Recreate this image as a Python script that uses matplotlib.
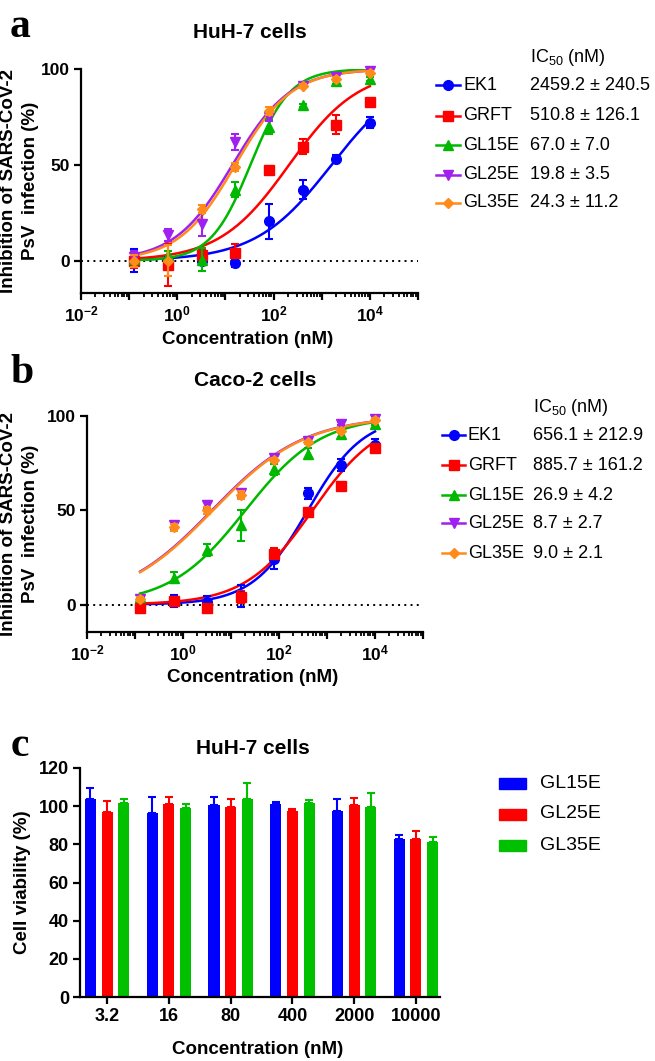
import numpy as np
import matplotlib
matplotlib.use('Agg')
import matplotlib.pyplot as plt
from matplotlib.lines import Line2D
from matplotlib.patches import Rectangle
from matplotlib.ticker import LogLocator, NullFormatter, FixedLocator, FixedFormatter

plt.rcParams['font.family'] = ['Liberation Sans', 'DejaVu Sans']
plt.rcParams['mathtext.fontset'] = 'custom'
plt.rcParams['mathtext.rm'] = 'Liberation Sans'
plt.rcParams['mathtext.bf'] = 'Liberation Sans:bold'

# ---------------- data ----------------
conc = [0.128, 0.64, 3.2, 16, 80, 400, 2000, 10000]
names = ['EK1', 'GRFT', 'GL15E', 'GL25E', 'GL35E']
colors = ['#0000FF', '#FF0000', '#00B800', '#A020F0', '#FF8C1A']
markers = ['o', 's', '^', 'v', 'D']
msizes = [7, 6.5, 7, 7, 5]

# Panel a (HuH-7) mean inhibition (%) and SD
a_ek1 = [0, 0, -0.3, -1.2, 20.5, 37, 53, 72]
a_ek1_sd = [6, 2, 2, 2, 9, 5, 2, 3]
a_grft = [0, -2.4, 3, 4, 47.5, 59.5, 71, 83]
a_grft_sd = [4, 11, 3, 5, 2, 4, 5, 1]
a_gl15e = [1, 3, 0.5, 37, 70, 81, 94, 95]
a_gl15e_sd = [2, 2, 6, 4, 4, 1, 2, 1]
a_gl25e = [2, 13.5, 19, 62, 75, 91, 96, 99]
a_gl25e_sd = [3, 3, 6, 4, 2, 1, 1, 1]
a_gl35e = [0, 0, 27, 49, 78, 91, 95, 98]
a_gl35e_sd = [3, 8, 2, 2, 2, 1, 1, 1]
a_ic50_text = ['2459.2 \u00b1 240.5', '510.8 \u00b1 126.1', '67.0 \u00b1 7.0',
               '19.8 \u00b1 3.5', '24.3 \u00b1 11.2']
# fitted curve parameters (EC50 in nM, Hill slope)
a_fit_ec50 = [1600, 210, 33, 14, 16]
a_fit_hill = [0.55, 0.6, 1.05, 0.72, 0.74]

# Panel b (Caco-2)
b_ek1 = [-1, 2, 1.4, 4.6, 24, 59, 74, 84.6]
b_ek1_sd = [3, 3, 3, 6, 5, 3, 3, 3]
b_grft = [-2, 2, -1.8, 4, 27, 49, 63, 83]
b_grft_sd = [2, 2, 2, 3, 3, 1, 1, 1]
b_gl15e = [4, 14.3, 29, 42, 71.7, 80, 90.4, 96]
b_gl15e_sd = [1, 3, 3, 8, 3, 3, 2, 1]
b_gl25e = [3, 42, 52.7, 59, 77.5, 87, 96, 98.6]
b_gl25e_sd = [1, 2, 2, 2, 1, 1, 1, 1]
b_gl35e = [3, 41, 50, 58, 76.6, 86, 92, 98]
b_gl35e_sd = [1, 2, 2, 2, 1, 1, 1, 1]
b_ic50_text = ['656.1 \u00b1 212.9', '885.7 \u00b1 161.2', '26.9 \u00b1 4.2',
               '8.7 \u00b1 2.7', '9.0 \u00b1 2.1']
b_fit_ec50 = [400, 500, 20, 4, 4.2]
b_fit_hill = [0.75, 0.62, 0.55, 0.45, 0.45]

# Panel c (cell viability)
c_conc_labels = ['3.2', '16', '80', '400', '2000', '10000']
c_series = ['GL15E', 'GL25E', 'GL35E']
c_colors = ['#0000FF', '#FF0000', '#00C000']
c_gl15e = [104, 96.5, 100.5, 101.2, 97.5, 83]
c_gl15e_sd = [5.5, 8.5, 4.1, 1.1, 6.4, 2]
c_gl25e = [97, 101, 99.5, 97.5, 100.5, 82.8]
c_gl25e_sd = [5.8, 4, 4.4, 0.9, 3.7, 4.1]
c_gl35e = [101.7, 99.3, 103.7, 101.6, 99.5, 81]
c_gl35e_sd = [2, 1.7, 8.3, 1.4, 7.2, 2.7]

W, H = 655, 1061
fig = plt.figure(figsize=(W / 100, H / 100), dpi=100)


def fx(x):
    return x / W


def fy(y):
    return 1 - y / H


def axes_px(l, t, r, b):
    return fig.add_axes([fx(l), fy(b), (r - l) / W, (b - t) / H])


def style_log_axes(ax, ymin):
    ax.set_xscale('log')
    ax.set_xlim(1e-2, 1e5)
    ax.set_ylim(ymin, 100)
    for s in ['top', 'right']:
        ax.spines[s].set_visible(False)
    for s in ['left', 'bottom']:
        ax.spines[s].set_linewidth(1.6)
    ax.xaxis.set_major_locator(FixedLocator([1e-2, 1e-1, 1e0, 1e1, 1e2, 1e3, 1e4, 1e5]))
    ax.xaxis.set_major_formatter(FixedFormatter([r'$\mathbf{10^{-2}}$', '', r'$\mathbf{10^{0}}$', '',
                                                 r'$\mathbf{10^{2}}$', '', r'$\mathbf{10^{4}}$', '']))
    ax.xaxis.set_minor_locator(LogLocator(base=10, subs=np.arange(2, 10), numticks=20))
    ax.xaxis.set_minor_formatter(NullFormatter())
    ax.set_yticks([0, 50, 100])
    ax.tick_params(axis='both', which='major', length=5, width=1.6, labelsize=12.5, pad=3)
    ax.tick_params(axis='x', which='minor', length=3, width=1.3)
    for lab in ax.get_yticklabels():
        lab.set_fontweight('bold')
    ax.axhline(0, color='k', lw=1.4, ls=(0, (1, 2.2)), zorder=1)


def draw_curves(ax, data, sds, ec50s, hills):
    xs = np.logspace(np.log10(conc[0]), np.log10(conc[-1]), 300)
    for i in reversed(range(5)):
        yfit = 100 / (1 + (ec50s[i] / xs) ** hills[i])
        ax.plot(xs, yfit, color=colors[i], lw=1.8, zorder=3 + i * 0.1)
        ax.errorbar(conc, data[i], yerr=sds[i], fmt=markers[i], color=colors[i],
                    ms=msizes[i], capsize=3.2, elinewidth=1.5, capthick=1.5,
                    zorder=4 + i * 0.1, clip_on=False)


def draw_legend(hx0, hx1, tx, vx, rows, header_y, texts):
    fig.text(fx(vx), fy(header_y), r'IC$_{50}$ (nM)', fontsize=13, va='center', ha='left')
    for i in range(5):
        y = fy(rows[i])
        fig.add_artist(Line2D([fx(hx0), fx(hx1)], [y, y], color=colors[i], lw=1.8,
                              transform=fig.transFigure))
        fig.add_artist(Line2D([fx((hx0 + hx1) / 2)], [y], color=colors[i], marker=markers[i],
                              ms=msizes[i], transform=fig.transFigure))
        fig.text(fx(tx), y, names[i], fontsize=13, va='center', ha='left')
        fig.text(fx(vx), y, texts[i], fontsize=13, va='center', ha='left')


# ---------------- Panel a ----------------
ax_a = axes_px(81, 69, 418, 293)
style_log_axes(ax_a, -16.8)
draw_curves(ax_a, [a_ek1, a_grft, a_gl15e, a_gl25e, a_gl35e],
            [a_ek1_sd, a_grft_sd, a_gl15e_sd, a_gl25e_sd, a_gl35e_sd], a_fit_ec50, a_fit_hill)
fig.text(fx(250), fy(32), 'HuH-7 cells', fontsize=15, fontweight='bold', ha='center', va='center')
fig.text(fx(248), fy(339), 'Concentration (nM)', fontsize=13.5, fontweight='bold', ha='center', va='center')
fig.text(fx(9), fy(181), 'Inhibition of SARS-CoV-2', fontsize=13.5, fontweight='bold',
         rotation=90, ha='center', va='center')
fig.text(fx(31), fy(181), 'PsV  infection (%)', fontsize=13.5, fontweight='bold',
         rotation=90, ha='center', va='center')
fig.text(fx(20), fy(27), 'a', fontsize=30, fontweight='bold', family='Liberation Serif',
         ha='center', va='center')
draw_legend(436, 460, 463, 530, [85, 116, 145, 175, 203], 58, a_ic50_text)

# ---------------- Panel b ----------------
ax_b = axes_px(87, 416, 423, 632)
style_log_axes(ax_b, -14.5)
draw_curves(ax_b, [b_ek1, b_grft, b_gl15e, b_gl25e, b_gl35e],
            [b_ek1_sd, b_grft_sd, b_gl15e_sd, b_gl25e_sd, b_gl35e_sd], b_fit_ec50, b_fit_hill)
fig.text(fx(255), fy(380), 'Caco-2 cells', fontsize=15, fontweight='bold', ha='center', va='center')
fig.text(fx(253), fy(677), 'Concentration (nM)', fontsize=13.5, fontweight='bold', ha='center', va='center')
fig.text(fx(9), fy(524), 'Inhibition of SARS-CoV-2', fontsize=13.5, fontweight='bold',
         rotation=90, ha='center', va='center')
fig.text(fx(31), fy(524), 'PsV  infection (%)', fontsize=13.5, fontweight='bold',
         rotation=90, ha='center', va='center')
fig.text(fx(22), fy(373), 'b', fontsize=30, fontweight='bold', family='Liberation Serif',
         ha='center', va='center')
draw_legend(442, 465, 468, 533, [435, 465, 495, 523, 553], 408, b_ic50_text)

# ---------------- Panel c ----------------
ax_c = axes_px(80, 768, 440, 997)
idx = np.arange(len(c_conc_labels))
bw = 0.18
offs = [-0.27, 0, 0.27]
cvals = [c_gl15e, c_gl25e, c_gl35e]
csds = [c_gl15e_sd, c_gl25e_sd, c_gl35e_sd]
for j in range(3):
    ax_c.bar(idx + offs[j], cvals[j], width=bw, color=c_colors[j], zorder=2)
    ax_c.errorbar(idx + offs[j], cvals[j], yerr=[np.zeros(6), csds[j]], fmt='none',
                  ecolor=c_colors[j], elinewidth=1.5, capsize=3, capthick=1.5, zorder=2)
ax_c.set_xlim(-0.44, 5.39)
ax_c.set_ylim(0, 120)
ax_c.set_yticks(np.arange(0, 121, 20))
ax_c.set_xticks(idx)
ax_c.set_xticklabels(c_conc_labels)
for s in ['top', 'right']:
    ax_c.spines[s].set_visible(False)
for s in ['left', 'bottom']:
    ax_c.spines[s].set_linewidth(1.6)
ax_c.tick_params(axis='both', which='major', length=5, width=1.6, labelsize=13, pad=3)
for lab in ax_c.get_xticklabels() + ax_c.get_yticklabels():
    lab.set_fontweight('bold')
fig.text(fx(253), fy(748), 'HuH-7 cells', fontsize=15, fontweight='bold', ha='center', va='center')
fig.text(fx(258), fy(1050), 'Concentration (nM)', fontsize=13.5, fontweight='bold', ha='center', va='center')
fig.text(fx(23), fy(882), 'Cell viability (%)', fontsize=13.5, fontweight='bold',
         rotation=90, ha='center', va='center')
fig.text(fx(20), fy(746), 'c', fontsize=30, fontweight='bold', family='Liberation Serif',
         ha='center', va='center')
for j in range(3):
    yc = [783, 814, 845][j]
    fig.add_artist(Rectangle((fx(499), fy(yc + 5.5)), 27 / W, 11 / H, color=c_colors[j],
                             transform=fig.transFigure))
    fig.text(fx(540), fy(yc), c_series[j], fontsize=14, va='center', ha='left')

fig.savefig('out.png', dpi=100)
